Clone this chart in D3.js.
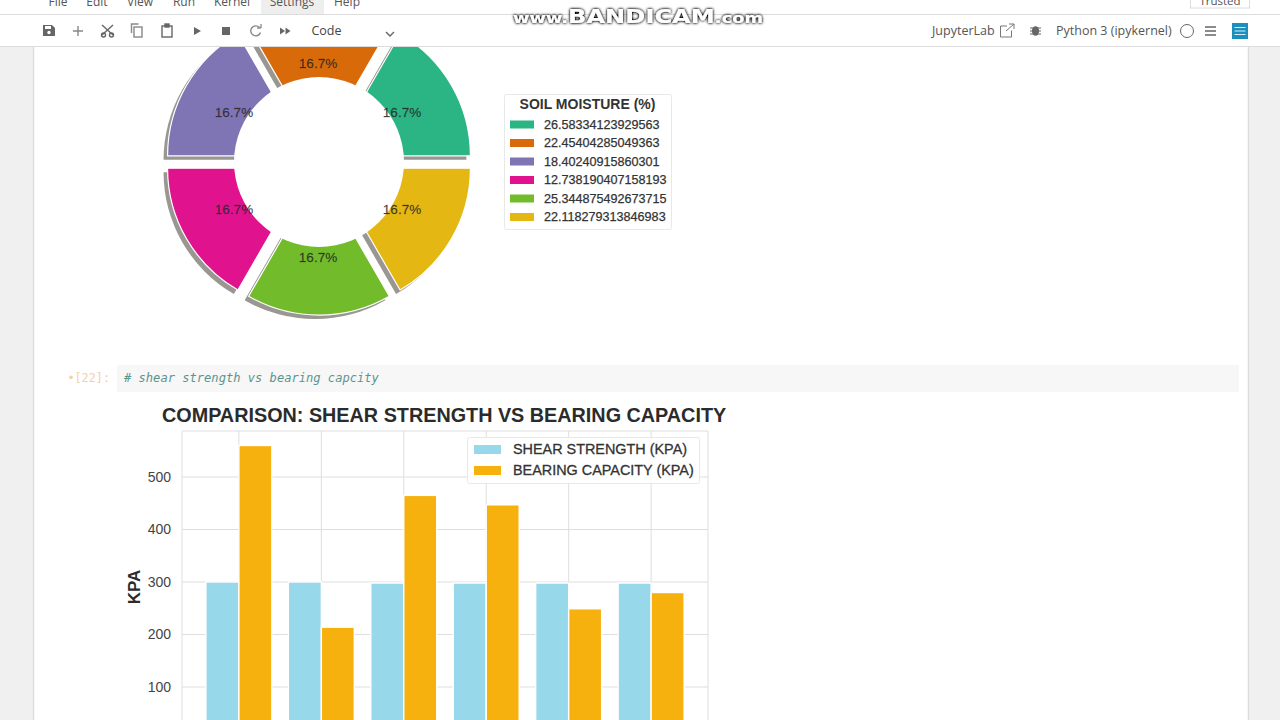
<!DOCTYPE html>
<html>
<head>
<meta charset="utf-8">
<script src="https://cdn.jsdelivr.net/npm/d3@7"></script>
<style>
  html, body { margin: 0; padding: 0; background: #fff; overflow: hidden; }
  svg { display: block; font-family: "Liberation Sans", Arial, sans-serif; }
  .ui { font-family: "Open Sans", "Noto Sans", sans-serif; }
</style>
</head>
<body>
<svg id="page" width="1280" height="720"></svg>
<script>
// donut
const pieCounts = [1, 1, 1, 1, 1, 1];
const soilMoisture = ["26.58334123929563", "22.45404285049363", "18.40240915860301", "12.738190407158193", "25.344875492673715", "22.118279313846983"];
const pieColors = ["#2bb584", "#d96a0a", "#8075b4", "#e0128e", "#72bc2c", "#e5b712"];

// bars
const groups = ["0", "1", "2", "3", "4", "5"];
const shearStrength = [300, 300, 298, 298, 298, 298];
const bearingCapacity = [560, 214, 465, 447, 249, 280];
const yTicks = [100, 200, 300, 400, 500];

// notebook chrome
const menuItems = [["File", 58], ["Edit", 97], ["View", 140], ["Run", 184], ["Kernel", 232], ["Settings", 292], ["Help", 347]];

const svg = d3.select("#page");

const defs = svg.append("defs");
const halo = defs.append("filter").attr("id", "halo").attr("x", "-5%").attr("y", "-40%").attr("width", "110%").attr("height", "180%");
halo.append("feGaussianBlur").attr("in", "SourceAlpha").attr("stdDeviation", 1.6).attr("result", "b");
halo.append("feComponentTransfer").attr("in", "b").attr("result", "dark")
  .append("feFuncA").attr("type", "linear").attr("slope", 1.6);
const haloMerge = halo.append("feMerge");
haloMerge.append("feMergeNode").attr("in", "dark");
haloMerge.append("feMergeNode").attr("in", "SourceGraphic");

// page background
svg.append("rect").attr("width", 1280).attr("height", 720).attr("fill", "#f0f0f0");
svg.append("rect").attr("x", 33.5).attr("y", 46).attr("width", 1215).attr("height", 680)
  .attr("fill", "#fff").attr("stroke", "#dddddd").attr("stroke-width", 1.5);

// ---- donut ----
const cx = 319, cy = 162, outerR = 140.7, holeR = 85, explode = 12.4, labelR = 84.6;
const pieGroup = svg.append("g").attr("transform", `translate(${cx},${cy})`);

const pie = d3.pie().sort(null).startAngle(Math.PI / 2).endAngle(Math.PI / 2 - 2 * Math.PI);
const arc = d3.arc().innerRadius(0).outerRadius(outerR);
const arcs = pie(pieCounts);
const total = d3.sum(pieCounts);

// push each wedge out along its own mid angle
const midOffset = (d, r) => {
  const a = (d.startAngle + d.endAngle) / 2;
  return [Math.sin(a) * r, -Math.cos(a) * r];
};

pieGroup.selectAll("path.shadow").data(arcs).join("path")
  .attr("class", "shadow")
  .attr("d", arc)
  .attr("fill", "#9a9692")
  .attr("transform", d => {
    const [x, y] = midOffset(d, explode);
    return `translate(${x - 4},${y + 4})`;
  });

pieGroup.selectAll("path.wedge").data(arcs).join("path")
  .attr("class", "wedge")
  .attr("d", arc)
  .attr("fill", (d, i) => pieColors[i])
  .attr("stroke", "#fff")
  .attr("stroke-width", 1.2)
  .attr("transform", d => {
    const [x, y] = midOffset(d, explode);
    return `translate(${x},${y})`;
  });

// white centre circle makes it a donut
pieGroup.append("circle").attr("r", holeR).attr("fill", "#fff");

pieGroup.selectAll("text").data(arcs).join("text")
  .attr("transform", d => {
    const [x, y] = midOffset(d, explode + labelR);
    return `translate(${x - 1},${y - 1.3})`;
  })
  .attr("text-anchor", "middle")
  .attr("dy", "0.33em")
  .attr("font-size", 13.5)
  .attr("fill", "#262626")
  .attr("fill-opacity", 0.85)
  .attr("stroke", "#262626")
  .attr("stroke-opacity", 0.5)
  .attr("stroke-width", 0.3)
  .text(d => d3.format(".1%")(d.value / total));

// donut legend
const pieLegend = svg.append("g");
pieLegend.append("rect").attr("x", 504.5).attr("y", 94.5).attr("width", 167).attr("height", 135)
  .attr("rx", 2).attr("fill", "#fff").attr("stroke", "#e8e8e8");
pieLegend.append("text").attr("x", 587.5).attr("y", 109).attr("text-anchor", "middle")
  .attr("font-size", 14).attr("font-weight", "bold").attr("fill", "#333").text("SOIL MOISTURE (%)");
const rowY = d3.scalePoint().domain(d3.range(soilMoisture.length)).range([124.5, 217]);
const rows = pieLegend.selectAll("g.row").data(soilMoisture).join("g").attr("class", "row")
  .attr("transform", (d, i) => `translate(0,${rowY(i)})`);
rows.append("rect").attr("x", 510).attr("y", -4).attr("width", 24).attr("height", 8)
  .attr("fill", (d, i) => pieColors[i]);
rows.append("text").attr("x", 544).attr("dy", "0.33em").attr("font-size", 12.6)
  .attr("fill", "#333").attr("stroke", "#333").attr("stroke-width", 0.25).text(d => d);

// ---- code cell ----
svg.append("rect").attr("x", 117).attr("y", 365).attr("width", 1122).attr("height", 27)
  .attr("fill", "#f7f7f7");
svg.append("text").attr("x", 124).attr("y", 381.5).attr("font-family", "'DejaVu Sans Mono', monospace")
  .attr("font-style", "italic").attr("font-size", 12.1).attr("fill", "#5a9490").text("# shear strength vs bearing capcity");
svg.append("text").attr("x", 110).attr("y", 381.5).attr("text-anchor", "end")
  .attr("font-family", "'DejaVu Sans Mono', monospace").attr("font-size", 11.8).attr("fill", "#f2d0ac").text("•[22]:");

// ---- bars ----
const margin = { left: 182, right: 708, top: 431, zero: 739.5 };
const y = d3.scaleLinear().domain([0, 587.6]).range([margin.zero, margin.top]);
const x = d3.scaleLinear().domain([-0.69, 5.69]).range([margin.left, margin.right]);
const barW = x(0.4) - x(0);

const chart = svg.append("g");
chart.append("text").attr("x", 162).attr("y", 421.5).attr("font-size", 19.8).attr("font-weight", "bold")
  .attr("fill", "#2b2b2b").text("COMPARISON: SHEAR STRENGTH VS BEARING CAPACITY");

chart.append("g").selectAll("line").data(yTicks).join("line")
  .attr("x1", margin.left).attr("x2", margin.right).attr("y1", d => y(d)).attr("y2", d => y(d))
  .attr("stroke", "#dedede");
chart.append("g").selectAll("line").data(groups).join("line")
  .attr("x1", (d, i) => x(i)).attr("x2", (d, i) => x(i)).attr("y1", margin.top).attr("y2", 720)
  .attr("stroke", "#dedede");
chart.append("path")
  .attr("d", `M${margin.left},720V${margin.top}H${margin.right}V720`)
  .attr("fill", "none").attr("stroke", "#dedede");

const yAxis = d3.axisLeft(y).tickValues(yTicks).tickSize(0).tickPadding(11);
const yG = chart.append("g").attr("transform", `translate(${margin.left},0)`).call(yAxis);
yG.select(".domain").remove();
yG.selectAll("text").attr("font-size", 14).attr("font-family", "'Liberation Sans', Arial, sans-serif").attr("fill", "#444");

chart.append("text").attr("transform", "translate(139.5,587) rotate(-90)").attr("text-anchor", "middle")
  .attr("font-size", 17).attr("font-weight", "bold").attr("fill", "#2b2b2b").text("KPA");

const barSeries = [
  { values: shearStrength, color: "#97d8ea", shift: -barW },
  { values: bearingCapacity, color: "#f6b10f", shift: 0 }
];
barSeries.forEach(s => {
  chart.append("g").selectAll("rect").data(s.values).join("rect")
    .attr("x", (d, i) => x(i) + s.shift)
    .attr("y", d => y(d))
    .attr("width", barW)
    .attr("height", d => y(0) - y(d))
    .attr("fill", s.color)
    .attr("stroke", "#fff")
    .attr("stroke-width", 1.4);
});

// bar legend
const barLegend = chart.append("g");
barLegend.append("rect").attr("x", 467.5).attr("y", 437.5).attr("width", 232).attr("height", 46)
  .attr("rx", 2).attr("fill", "#fff").attr("fill-opacity", 0.85).attr("stroke", "#e8e8e8");
const legendY = d3.scalePoint().domain(["SHEAR STRENGTH (KPA)", "BEARING CAPACITY (KPA)"]).range([449.5, 470.5]);
const barRows = barLegend.selectAll("g").data(legendY.domain()).join("g")
  .attr("transform", d => `translate(0,${legendY(d)})`);
barRows.append("rect").attr("x", 474).attr("y", -4.5).attr("width", 27).attr("height", 9)
  .attr("fill", (d, i) => barSeries[i].color);
barRows.append("text").attr("x", 513).attr("dy", "0.33em").attr("font-size", 14.4)
  .attr("fill", "#333").attr("stroke", "#333").attr("stroke-width", 0.3).text(d => d);

// ---- notebook chrome, on top so it clips the donut ----
const chrome = svg.append("g").attr("class", "ui");
chrome.append("rect").attr("width", 1280).attr("height", 46).attr("fill", "#fff");
chrome.append("rect").attr("x", 261).attr("width", 63).attr("height", 14).attr("fill", "#eeeeee");
chrome.append("line").attr("x1", 0).attr("x2", 1280).attr("y1", 14.5).attr("y2", 14.5).attr("stroke", "#dcdcdc");
chrome.append("line").attr("x1", 0).attr("x2", 1280).attr("y1", 46.5).attr("y2", 46.5).attr("stroke", "#dcdcdc");
chrome.selectAll("text.menu").data(menuItems).join("text").attr("class", "menu")
  .attr("x", d => d[1]).attr("y", 6).attr("text-anchor", "middle")
  .attr("font-size", 12).attr("fill", "#555").text(d => d[0]);

chrome.append("rect").attr("x", 1190.5).attr("y", -4).attr("width", 59).attr("height", 12)
  .attr("fill", "#fff").attr("stroke", "#dcdcdc");
chrome.append("text").attr("x", 1220).attr("y", 5).attr("text-anchor", "middle")
  .attr("font-size", 11.5).attr("fill", "#555").text("Trusted");

chrome.append("text").attr("x", 326.5).attr("y", 35).attr("text-anchor", "middle")
  .attr("font-size", 12.5).attr("fill", "#444").text("Code");
chrome.append("text").attr("x", 932).attr("y", 35).attr("font-size", 12.5).attr("fill", "#555").text("JupyterLab");
chrome.append("text").attr("x", 1056).attr("y", 35).attr("font-size", 12.5).attr("fill", "#555").text("Python 3 (ipykernel)");

const icon = "#666";
const ic = chrome.append("g").attr("fill", "none").attr("stroke", icon).attr("stroke-width", 1.4);
// save
ic.append("path").attr("d", "M43,25h9l3,3v8h-12z").attr("fill", icon).attr("stroke", "none");
ic.append("rect").attr("x", 45).attr("y", 26).attr("width", 6).attr("height", 3).attr("fill", "#fff").attr("stroke", "none");
ic.append("circle").attr("cx", 49).attr("cy", 32.5).attr("r", 1.7).attr("fill", "#fff").attr("stroke", "none");
// add
ic.append("path").attr("d", "M78,26v10M73,31h10").attr("stroke", "#888");
// cut
ic.append("path").attr("d", "M102,25l11,10M113,25l-11,10");
ic.append("circle").attr("cx", 103.5).attr("cy", 35).attr("r", 2);
ic.append("circle").attr("cx", 111.5).attr("cy", 35).attr("r", 2);
// copy
ic.append("rect").attr("x", 134).attr("y", 27).attr("width", 8).attr("height", 10).attr("stroke", "#888");
ic.append("path").attr("d", "M131.5,33v-9h7").attr("stroke", "#888");
// paste
ic.append("rect").attr("x", 162).attr("y", 26).attr("width", 10).attr("height", 11);
ic.append("rect").attr("x", 165).attr("y", 24).attr("width", 4).attr("height", 3).attr("fill", icon);
// run, stop
ic.append("path").attr("d", "M194,27l7,4l-7,4z").attr("fill", icon).attr("stroke", "none");
ic.append("rect").attr("x", 222).attr("y", 27).attr("width", 8).attr("height", 8).attr("fill", icon).attr("stroke", "none");
// restart
ic.append("path").attr("d", "M259.5,27.5a5,5,0,1,0,1,5").attr("stroke", "#888");
ic.append("path").attr("d", "M257,28h4v-4").attr("stroke-width", 1);
// fast forward
ic.append("path").attr("d", "M280,27.5l5,3.5l-5,3.5zM285.5,27.5l5,3.5l-5,3.5z").attr("fill", icon).attr("stroke", "none");
// cell type chevron
ic.append("path").attr("d", "M386,32l4,4l4,-4");
// external link
ic.append("path").attr("d", "M1007,26h-6.500v11h11v-6.500M1006,31l8,-7M1009,24h5v5").attr("stroke-width", 1).attr("stroke", "#777");
// bug
ic.append("ellipse").attr("cx", 1035.500).attr("cy", 31).attr("rx", 3.600).attr("ry", 4.800).attr("fill", icon).attr("stroke", "none");
ic.append("path").attr("d", "M1030,28l11,0M1030,31h11M1030,34h11").attr("stroke-width", 1);
// kernel status
ic.append("circle").attr("cx", 1187).attr("cy", 31).attr("r", 6.500).attr("stroke-width", 1);
// menu
ic.append("path").attr("d", "M1205,27h11M1205,31h11M1205,35h11").attr("stroke-width", 1.6);
// property inspector
ic.append("rect").attr("x", 1232).attr("y", 23).attr("width", 16).attr("height", 16).attr("fill", "#1d8fbd").attr("stroke", "none");
ic.append("path").attr("d", "M1234.500,27.500h11M1234.500,31h11M1234.500,34.500h11").attr("stroke", "#d8eef6").attr("stroke-width", 1.200);

// recorder watermark
const mark = svg.append("text").attr("x", 513).attr("y", 23)
  .attr("font-family", "'DejaVu Sans', sans-serif").attr("font-weight", "bold")
  .attr("fill", "#fff").attr("filter", "url(#halo)")
  .attr("textLength", 250).attr("lengthAdjust", "spacingAndGlyphs");
mark.append("tspan").attr("font-size", 14).text("www.");
mark.append("tspan").attr("font-size", 19).text("BANDICAM");
mark.append("tspan").attr("font-size", 14).text(".com");
</script>
</body>
</html>
